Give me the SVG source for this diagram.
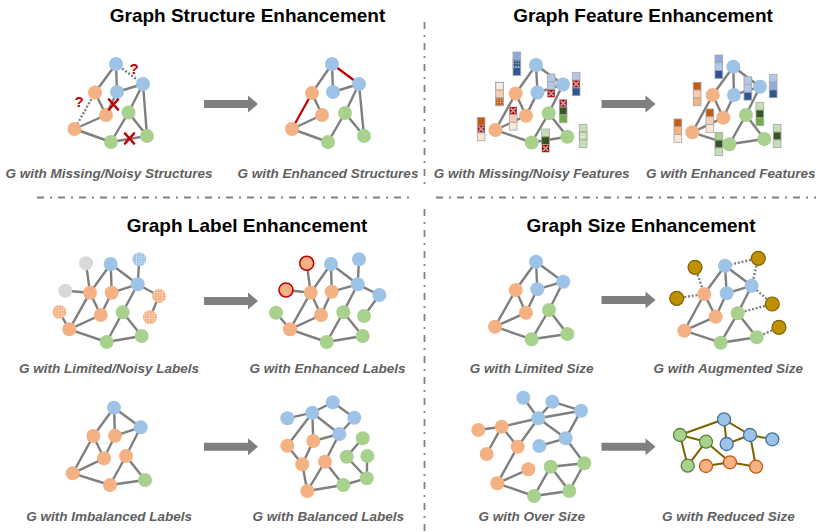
<svg xmlns="http://www.w3.org/2000/svg" xmlns:xlink="http://www.w3.org/1999/xlink" width="816" height="532" viewBox="0 0 816 532">
<style>
.e{stroke:#7f7f7f;stroke-width:2.4;fill:none}
.d{stroke:#7f7f7f;stroke-width:2.4;fill:none;stroke-dasharray:2 1.8}
.re{stroke:#c00000;stroke-width:2.2;fill:none}
.ol{stroke:#806000;stroke-width:2;fill:none}
.div{stroke:#808080;stroke-width:1.8;fill:none;stroke-dasharray:7 6 2 6}
.b{fill:#9dc3e6}.o{fill:#f4b183}.g{fill:#a9d18e}.gy{fill:#d9d9d9}
.au{fill:#bf9000;stroke:#7f6000;stroke-width:1.2}
.bs{fill:#9dc3e6;stroke:#41719c;stroke-width:1.3}
.os{fill:#f4b183;stroke:#c55a11;stroke-width:1.3}
.gs{fill:#a9d18e;stroke:#548235;stroke-width:1.3}
.rs{fill:#f4b183;stroke:#c00000;stroke-width:1.6}
.dt{fill:url(#dots)}
.cell{stroke:#a6a6a6;stroke-width:0.8}
.x{stroke:#c00000;stroke-width:2.6;fill:none;stroke-linecap:round}
.q{font-family:"Liberation Sans",Arial,sans-serif;font-weight:bold;font-size:15px;fill:#c00000;text-anchor:middle}
.t{font-family:"Liberation Sans",Arial,sans-serif;font-weight:bold;font-size:19px;fill:#000;text-anchor:middle}
.s{font-family:"Liberation Sans",Arial,sans-serif;font-weight:bold;font-style:italic;font-size:13.5px;fill:#606060;text-anchor:middle}
</style>
<defs>
<pattern id="dots" width="2.6" height="2.6" patternUnits="userSpaceOnUse"><circle cx="1.3" cy="1.3" r="0.6" fill="#fff"/></pattern>
<symbol id="nz" viewBox="0 0 8 8"><rect width="8" height="8" fill="#c00000"/><g fill="#fff"><circle cx="2" cy="2" r=".6"/><circle cx="6" cy="2" r=".6"/><circle cx="3" cy="3" r=".6"/><circle cx="5" cy="3" r=".6"/><circle cx="4" cy="4" r=".6"/><circle cx="3" cy="5" r=".6"/><circle cx="5" cy="5" r=".6"/><circle cx="2" cy="6" r=".6"/><circle cx="6" cy="6" r=".6"/></g></symbol>
<path id="arr" d="M0 -4H44V-8.5L54 0L44 8.5V4H0Z" fill="#7f7f7f"/>
</defs>
<rect width="816" height="532" fill="#fff"/>

<g id="dividers">
<path class="div" d="M37 197.5H413M436 197.5H816"/>
<path class="div" d="M424.5 22V187M424.5 209V532"/>
</g>

<g id="titles">
<text class="t" x="247.5" y="22">Graph Structure Enhancement</text>
<text class="t" x="643" y="22">Graph Feature Enhancement</text>
<text class="t" x="247" y="232">Graph Label Enhancement</text>
<text class="t" x="641" y="232">Graph Size Enhancement</text>
</g>

<g id="connectors">
<g class="e"><path d="M116 64L117 92M116 64L95 92.5M117 92L143 84M143 84L128.5 112.5M143 84L147 136M95 92.5L106 115M106 115L117 92M74.5 129L106 115M74.5 129L111 142M111 142L128.5 112.5M128.5 112.5L147 136M111 142L147 136"/></g>
<g class="d"><path d="M116 64L143 84M95 92.5L74.5 129"/></g>
<g class="e"><path d="M332 64L333 92M332 64L312 93M333 92L359 84M359 84L345 113M359 84L364 136M312 93L322 115M292 129L322 115M292 129L328 142M328 142L345 113M345 113L364 136"/></g>
<g class="re"><path d="M332 64L359 84M312 93L292 129"/></g>
<g class="e"><path d="M536 65L537.5 92.5M536 65L563 84.5M536 65L515.7 93.5M537.5 92.5L563 84.5M563 84.5L548.7 113.3M548.7 113.3L567.3 136.7M548.7 113.3L531.7 142.5M531.7 142.5L567.3 136.7M495.5 130L531.7 142.5M495.5 130L526 115.7M495.5 130L515.7 93.5M515.7 93.5L526 115.7M526 115.7L537.5 92.5"/></g>
<g class="e"><path d="M733.3 66.7L734 95M733.3 66.7L760 86.7M733.3 66.7L712.7 95M734 95L760 86.7M760 86.7L746 115M746 115L764.3 139M746 115L729.3 144.3M729.3 144.3L764.3 139M692.3 132.3L729.3 144.3M692.3 132.3L723.3 117.7M692.3 132.3L712.7 95M712.7 95L723.3 117.7M723.3 117.7L734 95"/></g>
<g class="e"><path d="M86 263.3L90 292.7M65.3 290.7L90 292.7M90 292.7L110.7 264M110.7 264L111.7 292.7M110.7 264L137.7 284.3M139.3 259.3L137.7 284.3M137.7 284.3L159 296M159 296L150 317.3M137.7 284.3L122.7 312.3M111.7 292.7L100.7 315M90 292.7L100.7 315M90 292.7L69.3 329.3M69.3 329.3L100.7 315M59.3 312L69.3 329.3M69.3 329.3L106.7 342M106.7 342L122.7 312.3M122.7 312.3L141.7 336M106.7 342L141.7 336M111.7 292.7L137.7 284.3"/></g>
<g class="e"><path d="M306.7 263.3L310.7 292.7M286 290L310.7 292.7M310.7 292.7L331 264M331 264L331.7 291.7M331 264L357.7 284.3M359 259.3L357.7 284.3M357.7 284.3L379.3 295M379.3 295L364 316M357.7 284.3L343.3 312.3M331.7 291.7L321 315M310.7 292.7L321 315M310.7 292.7L290 329.3M290 329.3L321 315M276 312.7L290 329.3M290 329.3L326.7 342M326.7 342L343.3 312.3M343.3 312.3L362.7 336M326.7 342L362.7 336M331.7 291.7L357.7 284.3"/></g>
<g class="e"><path d="M536 261.7L537.3 289.3M536 261.7L563.3 281.7M536 261.7L515.7 290M537.3 289.3L563.3 281.7M563.3 281.7L549 310M549 310L567.3 334M549 310L531.7 339.3M531.7 339.3L567.3 334M495 326.7L531.7 339.3M495 326.7L526 312.7M495 326.7L515.7 290M515.7 290L526 312.7M526 312.7L537.3 289.3"/></g>
<g class="e"><path d="M725 265.7L726.7 293.3M725 265.7L751.7 285.7M725 265.7L704.3 294M726.7 293.3L751.7 285.7M751.7 285.7L737.7 313.3M737.7 313.3L756.7 337.3M737.7 313.3L720.7 342.7M720.7 342.7L756.7 337.3M684.3 330.7L720.7 342.7M684.3 330.7L715.7 316.7M684.3 330.7L704.3 294M704.3 294L715.7 316.7M715.7 316.7L726.7 293.3"/></g>
<g class="d"><path d="M695 267.3L704.3 294M676.7 298.3L704.3 294M758.3 258.3L725 265.7M758.3 258.3L751.7 285.7M772.3 304L751.7 285.7M772.3 304L737.7 313.3M779 327.3L756.7 337.3"/></g>
<g class="e"><path d="M114 407.7L93.3 436M114 407.7L115 435.7M114 407.7L140.7 427.3M115 435.7L140.7 427.3M93.3 436L104 458.3M115 435.7L104 458.3M93.3 436L72.7 473.3M72.7 473.3L104 458.3M72.7 473.3L110 485M110 485L126 456M126 456L140.7 427.3M126 456L145 480M110 485L145 480"/></g>
<g class="e"><path d="M287.3 418.3L312.3 412.7M312.3 412.7L332.7 402.3M332.7 402.3L354.3 417.7M354.3 417.7L339.3 434M312.3 412.7L339.3 434M312.3 412.7L287.3 445.7M312.3 412.7L313.3 441M313.3 441L339.3 434M287.3 445.7L302.3 464.3M313.3 441L302.3 464.3M339.3 434L325 461.7M302.3 464.3L307.3 491M325 461.7L307.3 491M307.3 491L343.3 485M325 461.7L343.3 485M343.3 485L366.7 478.3M366.7 478.3L367.3 456M346.7 456.7L362.7 438.3M346.7 456.7L366.7 478.3"/></g>
<g class="e"><path d="M523.3 397.7L538.3 418.3M552.3 401.7L538.3 418.3M552.3 401.7L581 410.7M581 410.7L538.3 418.3M581 410.7L565.7 438.3M538.3 418.3L565.7 438.3M538.3 418.3L501.7 426.7M538.3 418.3L517.7 446.7M565.7 438.3L539.3 446M565.7 438.3L584.3 463.3M478.3 430L501.7 426.7M501.7 426.7L517.7 446.7M501.7 426.7L486.7 454M517.7 446.7L497.3 483.3M497.3 483.3L528.3 469.3M497.3 483.3L534 496M534 496L550.7 466.7M550.7 466.7L584.3 463.3M550.7 466.7L569.3 491M569.3 491L534 496M569.3 491L584.3 463.3"/></g>
<g class="ol"><path d="M680 435L724 419.3M680 435L706 441.7M680 435L687.7 465.7M706 441.7L687.7 465.7M724 419.3L750 435M724 419.3L726.7 444M726.7 444L750 435M750 435L772.3 439.3M750 435L756 466.7M706 441.7L730 462.3M706 466L730 462.3M730 462.3L756 466.7"/></g>
</g>

<g id="nodes">
<g id="s1-b1"><circle class="b" cx="116" cy="64" r="7"/></g>
<g id="s1-b2"><circle class="b" cx="143" cy="84" r="7"/></g>
<g id="s1-b3"><circle class="b" cx="117" cy="92" r="7"/></g>
<g id="s1-o1"><circle class="o" cx="95" cy="92.5" r="7"/></g>
<g id="s1-o2"><circle class="o" cx="106" cy="115" r="7"/></g>
<g id="s1-o3"><circle class="o" cx="74.5" cy="129" r="7"/></g>
<g id="s1-g1"><circle class="g" cx="128.5" cy="112.5" r="7"/></g>
<g id="s1-g2"><circle class="g" cx="111" cy="142" r="7"/></g>
<g id="s1-g3"><circle class="g" cx="147" cy="136" r="7"/></g>
<g id="s2-b1"><circle class="b" cx="332" cy="64" r="7"/></g>
<g id="s2-b2"><circle class="b" cx="359" cy="84" r="7"/></g>
<g id="s2-b3"><circle class="b" cx="333" cy="92" r="7"/></g>
<g id="s2-o1"><circle class="o" cx="312" cy="93" r="7"/></g>
<g id="s2-o2"><circle class="o" cx="322" cy="115" r="7"/></g>
<g id="s2-o3"><circle class="o" cx="292" cy="129" r="7"/></g>
<g id="s2-g1"><circle class="g" cx="345" cy="113" r="7"/></g>
<g id="s2-g2"><circle class="g" cx="328" cy="142" r="7"/></g>
<g id="s2-g3"><circle class="g" cx="364" cy="136" r="7"/></g>
<g id="f1-b1"><circle class="b" cx="536" cy="65" r="7"/></g>
<g id="f1-b2"><circle class="b" cx="563" cy="84.5" r="7"/></g>
<g id="f1-b3"><circle class="b" cx="537.5" cy="92.5" r="7"/></g>
<g id="f1-o1"><circle class="o" cx="515.7" cy="93.5" r="7"/></g>
<g id="f1-o2"><circle class="o" cx="526" cy="115.7" r="7"/></g>
<g id="f1-o3"><circle class="o" cx="495.5" cy="130" r="7"/></g>
<g id="f1-g1"><circle class="g" cx="548.7" cy="113.3" r="7"/></g>
<g id="f1-g2"><circle class="g" cx="531.7" cy="142.5" r="7"/></g>
<g id="f1-g3"><circle class="g" cx="567.3" cy="136.7" r="7"/></g>
<g id="f2-b1"><circle class="b" cx="733.3" cy="66.7" r="7"/></g>
<g id="f2-b2"><circle class="b" cx="760" cy="86.7" r="7"/></g>
<g id="f2-b3"><circle class="b" cx="734" cy="95" r="7"/></g>
<g id="f2-o1"><circle class="o" cx="712.7" cy="95" r="7"/></g>
<g id="f2-o2"><circle class="o" cx="723.3" cy="117.7" r="7"/></g>
<g id="f2-o3"><circle class="o" cx="692.3" cy="132.3" r="7"/></g>
<g id="f2-g1"><circle class="g" cx="746" cy="115" r="7"/></g>
<g id="f2-g2"><circle class="g" cx="729.3" cy="144.3" r="7"/></g>
<g id="f2-g3"><circle class="g" cx="764.3" cy="139" r="7"/></g>
<g id="l1-gy1"><circle class="gy" cx="86" cy="263.3" r="7"/></g>
<g id="l1-b1"><circle class="b" cx="110.7" cy="264" r="7"/></g>
<g id="l1-bd"><circle class="b" cx="139.3" cy="259.3" r="7"/><circle class="dt" cx="139.3" cy="259.3" r="7"/></g>
<g id="l1-gy2"><circle class="gy" cx="65.3" cy="290.7" r="7"/></g>
<g id="l1-o1"><circle class="o" cx="90" cy="292.7" r="7"/></g>
<g id="l1-o2"><circle class="o" cx="111.7" cy="292.7" r="7"/></g>
<g id="l1-b2"><circle class="b" cx="137.7" cy="284.3" r="7"/></g>
<g id="l1-od1"><circle class="o" cx="159" cy="296" r="7"/><circle class="dt" cx="159" cy="296" r="7"/></g>
<g id="l1-od2"><circle class="o" cx="59.3" cy="312" r="7"/><circle class="dt" cx="59.3" cy="312" r="7"/></g>
<g id="l1-o3"><circle class="o" cx="100.7" cy="315" r="7"/></g>
<g id="l1-g1"><circle class="g" cx="122.7" cy="312.3" r="7"/></g>
<g id="l1-od3"><circle class="o" cx="150" cy="317.3" r="7"/><circle class="dt" cx="150" cy="317.3" r="7"/></g>
<g id="l1-o4"><circle class="o" cx="69.3" cy="329.3" r="7"/></g>
<g id="l1-g2"><circle class="g" cx="106.7" cy="342" r="7"/></g>
<g id="l1-g3"><circle class="g" cx="141.7" cy="336" r="7"/></g>
<g id="l2-r1"><circle class="rs" cx="306.7" cy="263.3" r="7"/></g>
<g id="l2-b1"><circle class="b" cx="331" cy="264" r="7"/></g>
<g id="l2-bt"><circle class="b" cx="359" cy="259.3" r="7"/></g>
<g id="l2-r2"><circle class="rs" cx="286" cy="290" r="7"/></g>
<g id="l2-o1"><circle class="o" cx="310.7" cy="292.7" r="7"/></g>
<g id="l2-o2"><circle class="o" cx="331.7" cy="291.7" r="7"/></g>
<g id="l2-b2"><circle class="b" cx="357.7" cy="284.3" r="7"/></g>
<g id="l2-br"><circle class="b" cx="379.3" cy="295" r="7"/></g>
<g id="l2-gl"><circle class="g" cx="276" cy="312.7" r="7"/></g>
<g id="l2-o3"><circle class="o" cx="321" cy="315" r="7"/></g>
<g id="l2-g1"><circle class="g" cx="343.3" cy="312.3" r="7"/></g>
<g id="l2-gr"><circle class="g" cx="364" cy="316" r="7"/></g>
<g id="l2-o4"><circle class="o" cx="290" cy="329.3" r="7"/></g>
<g id="l2-g2"><circle class="g" cx="326.7" cy="342" r="7"/></g>
<g id="l2-g3"><circle class="g" cx="362.7" cy="336" r="7"/></g>
<g id="z1-b1"><circle class="b" cx="536" cy="261.7" r="7"/></g>
<g id="z1-b2"><circle class="b" cx="563.3" cy="281.7" r="7"/></g>
<g id="z1-b3"><circle class="b" cx="537.3" cy="289.3" r="7"/></g>
<g id="z1-o1"><circle class="o" cx="515.7" cy="290" r="7"/></g>
<g id="z1-o2"><circle class="o" cx="526" cy="312.7" r="7"/></g>
<g id="z1-o3"><circle class="o" cx="495" cy="326.7" r="7"/></g>
<g id="z1-g1"><circle class="g" cx="549" cy="310" r="7"/></g>
<g id="z1-g2"><circle class="g" cx="531.7" cy="339.3" r="7"/></g>
<g id="z1-g3"><circle class="g" cx="567.3" cy="334" r="7"/></g>
<g id="z2-b1"><circle class="b" cx="725" cy="265.7" r="7"/></g>
<g id="z2-b2"><circle class="b" cx="751.7" cy="285.7" r="7"/></g>
<g id="z2-b3"><circle class="b" cx="726.7" cy="293.3" r="7"/></g>
<g id="z2-o1"><circle class="o" cx="704.3" cy="294" r="7"/></g>
<g id="z2-o2"><circle class="o" cx="715.7" cy="316.7" r="7"/></g>
<g id="z2-o3"><circle class="o" cx="684.3" cy="330.7" r="7"/></g>
<g id="z2-g1"><circle class="g" cx="737.7" cy="313.3" r="7"/></g>
<g id="z2-g2"><circle class="g" cx="720.7" cy="342.7" r="7"/></g>
<g id="z2-g3"><circle class="g" cx="756.7" cy="337.3" r="7"/></g>
<g id="z2-a1"><circle class="au" cx="695" cy="267.3" r="7"/></g>
<g id="z2-a2"><circle class="au" cx="758.3" cy="258.3" r="7"/></g>
<g id="z2-a3"><circle class="au" cx="676.7" cy="298.3" r="7"/></g>
<g id="z2-a4"><circle class="au" cx="772.3" cy="304" r="7"/></g>
<g id="z2-a5"><circle class="au" cx="779" cy="327.3" r="7"/></g>
<g id="i1-b1"><circle class="b" cx="114" cy="407.7" r="7"/></g>
<g id="i1-b2"><circle class="b" cx="140.7" cy="427.3" r="7"/></g>
<g id="i1-o1"><circle class="o" cx="93.3" cy="436" r="7"/></g>
<g id="i1-o2"><circle class="o" cx="115" cy="435.7" r="7"/></g>
<g id="i1-o3"><circle class="o" cx="104" cy="458.3" r="7"/></g>
<g id="i1-o4"><circle class="o" cx="126" cy="456" r="7"/></g>
<g id="i1-o5"><circle class="o" cx="72.7" cy="473.3" r="7"/></g>
<g id="i1-o6"><circle class="o" cx="110" cy="485" r="7"/></g>
<g id="i1-g1"><circle class="g" cx="145" cy="480" r="7"/></g>
<g id="i2-bl"><circle class="b" cx="287.3" cy="418.3" r="7"/></g>
<g id="i2-b1"><circle class="b" cx="312.3" cy="412.7" r="7"/></g>
<g id="i2-bt"><circle class="b" cx="332.7" cy="402.3" r="7"/></g>
<g id="i2-br"><circle class="b" cx="354.3" cy="417.7" r="7"/></g>
<g id="i2-b2"><circle class="b" cx="339.3" cy="434" r="7"/></g>
<g id="i2-o1"><circle class="o" cx="287.3" cy="445.7" r="7"/></g>
<g id="i2-o2"><circle class="o" cx="313.3" cy="441" r="7"/></g>
<g id="i2-o3"><circle class="o" cx="302.3" cy="464.3" r="7"/></g>
<g id="i2-o4"><circle class="o" cx="325" cy="461.7" r="7"/></g>
<g id="i2-o5"><circle class="o" cx="307.3" cy="491" r="7"/></g>
<g id="i2-gt"><circle class="g" cx="362.7" cy="438.3" r="7"/></g>
<g id="i2-gm"><circle class="g" cx="346.7" cy="456.7" r="7"/></g>
<g id="i2-gr"><circle class="g" cx="367.3" cy="456" r="7"/></g>
<g id="i2-g1"><circle class="g" cx="343.3" cy="485" r="7"/></g>
<g id="i2-g2"><circle class="g" cx="366.7" cy="478.3" r="7"/></g>
<g id="v1-bt1"><circle class="b" cx="523.3" cy="397.7" r="7"/></g>
<g id="v1-bt2"><circle class="b" cx="552.3" cy="401.7" r="7"/></g>
<g id="v1-bt3"><circle class="b" cx="581" cy="410.7" r="7"/></g>
<g id="v1-bc"><circle class="b" cx="538.3" cy="418.3" r="7"/></g>
<g id="v1-bm"><circle class="b" cx="565.7" cy="438.3" r="7"/></g>
<g id="v1-bl"><circle class="b" cx="539.3" cy="446" r="7"/></g>
<g id="v1-oa"><circle class="o" cx="478.3" cy="430" r="7"/></g>
<g id="v1-ob"><circle class="o" cx="501.7" cy="426.7" r="7"/></g>
<g id="v1-oc"><circle class="o" cx="517.7" cy="446.7" r="7"/></g>
<g id="v1-od"><circle class="o" cx="486.7" cy="454" r="7"/></g>
<g id="v1-oe"><circle class="o" cx="528.3" cy="469.3" r="7"/></g>
<g id="v1-of"><circle class="o" cx="497.3" cy="483.3" r="7"/></g>
<g id="v1-ga"><circle class="g" cx="550.7" cy="466.7" r="7"/></g>
<g id="v1-gb"><circle class="g" cx="584.3" cy="463.3" r="7"/></g>
<g id="v1-gc"><circle class="g" cx="534" cy="496" r="7"/></g>
<g id="v1-gd"><circle class="g" cx="569.3" cy="491" r="7"/></g>
<g id="v2-gl"><circle class="gs" cx="680" cy="435" r="6.5"/></g>
<g id="v2-gm"><circle class="gs" cx="706" cy="441.7" r="6.5"/></g>
<g id="v2-gb"><circle class="gs" cx="687.7" cy="465.7" r="6.5"/></g>
<g id="v2-b1"><circle class="bs" cx="724" cy="419.3" r="6.5"/></g>
<g id="v2-b2"><circle class="bs" cx="750" cy="435" r="6.5"/></g>
<g id="v2-b3"><circle class="bs" cx="726.7" cy="444" r="6.5"/></g>
<g id="v2-b4"><circle class="bs" cx="772.3" cy="439.3" r="6.5"/></g>
<g id="v2-o1"><circle class="os" cx="706" cy="466" r="6.5"/></g>
<g id="v2-o2"><circle class="os" cx="730" cy="462.3" r="6.5"/></g>
<g id="v2-o3"><circle class="os" cx="756" cy="466.7" r="6.5"/></g>
</g>

<g id="features-left" class="cell">
<g><rect x="513" y="52" width="7.7" height="7.8" fill="#8faadc"/><rect x="513" y="59.8" width="7.7" height="7.8" fill="#2f5597"/><rect x="513" y="59.8" width="7.7" height="7.8" class="dt"/><rect x="513" y="67.6" width="7.7" height="7.8" fill="#2f5597"/></g>
<g><rect x="547.3" y="74" width="7.7" height="7.8" fill="#b4c7e7"/><rect x="547.3" y="81.8" width="7.7" height="7.8" fill="#b4c7e7"/><use href="#nz" x="547.3" y="89.6" width="7.7" height="7.8"/></g>
<g><rect x="572.3" y="72.3" width="7.7" height="7.8" fill="#b4c7e7"/><use href="#nz" x="572.3" y="80.1" width="7.7" height="7.8"/><rect x="572.3" y="87.9" width="7.7" height="7.8" fill="#2f5597"/></g>
<g><rect x="495.7" y="82.3" width="7.7" height="7.8" fill="#fbe5d6"/><rect x="495.7" y="82.3" width="7.7" height="7.8" class="dt"/><rect x="495.7" y="90.1" width="7.7" height="7.8" fill="#f8cbad"/><rect x="495.7" y="97.9" width="7.7" height="7.8" fill="#c55a11"/><rect x="495.7" y="97.9" width="7.7" height="7.8" class="dt"/></g>
<g><use href="#nz" x="509.3" y="106.7" width="7.7" height="7.8"/><rect x="509.3" y="114.5" width="7.7" height="7.8" fill="#f8cbad"/><rect x="509.3" y="122.3" width="7.7" height="7.8" fill="#fbe5d6"/></g>
<g><rect x="477.3" y="117.3" width="7.7" height="7.8" fill="#c55a11"/><use href="#nz" x="477.3" y="125.1" width="7.7" height="7.8"/><rect x="477.3" y="132.9" width="7.7" height="7.8" fill="#fbe5d6"/></g>
<g><use href="#nz" x="559.3" y="99.3" width="7.7" height="7.8"/><rect x="559.3" y="107.1" width="7.7" height="7.8" fill="#375623"/><rect x="559.3" y="114.9" width="7.7" height="7.8" fill="#70ad47"/></g>
<g><rect x="541.7" y="129" width="7.7" height="7.8" fill="#c5e0b4"/><rect x="541.7" y="136.8" width="7.7" height="7.8" fill="#375623"/><use href="#nz" x="541.7" y="144.6" width="7.7" height="7.8"/></g>
<g><rect x="579.3" y="124.3" width="7.7" height="7.8" fill="#c5e0b4"/><rect x="579.3" y="132.1" width="7.7" height="7.8" fill="#c5e0b4"/><rect x="579.3" y="132.1" width="7.7" height="7.8" class="dt"/><rect x="579.3" y="139.9" width="7.7" height="7.8" fill="#c5e0b4"/></g>
</g>

<g id="features-right" class="cell">
<g><rect x="715" y="55" width="7.7" height="7.8" fill="#8faadc"/><rect x="715" y="62.8" width="7.7" height="7.8" fill="#b4c7e7"/><rect x="715" y="70.6" width="7.7" height="7.8" fill="#2f5597"/></g>
<g><rect x="744" y="76.7" width="7.7" height="7.8" fill="#b4c7e7"/><rect x="744" y="84.5" width="7.7" height="7.8" fill="#b4c7e7"/><rect x="744" y="92.3" width="7.7" height="7.8" fill="#2f5597"/></g>
<g><rect x="769.3" y="74.3" width="7.7" height="7.8" fill="#b4c7e7"/><rect x="769.3" y="82.1" width="7.7" height="7.8" fill="#8faadc"/><rect x="769.3" y="89.9" width="7.7" height="7.8" fill="#2f5597"/></g>
<g><rect x="693.3" y="82.3" width="7.7" height="7.8" fill="#c55a11"/><rect x="693.3" y="90.1" width="7.7" height="7.8" fill="#f8cbad"/><rect x="693.3" y="97.9" width="7.7" height="7.8" fill="#f4b183"/></g>
<g><rect x="706" y="109" width="7.7" height="7.8" fill="#c55a11"/><rect x="706" y="116.8" width="7.7" height="7.8" fill="#f8cbad"/><rect x="706" y="124.6" width="7.7" height="7.8" fill="#fbe5d6"/></g>
<g><rect x="674" y="119" width="7.7" height="7.8" fill="#c55a11"/><rect x="674" y="126.8" width="7.7" height="7.8" fill="#f4b183"/><rect x="674" y="134.6" width="7.7" height="7.8" fill="#fbe5d6"/></g>
<g><rect x="756" y="102.3" width="7.7" height="7.8" fill="#c5e0b4"/><rect x="756" y="110.1" width="7.7" height="7.8" fill="#375623"/><rect x="756" y="117.9" width="7.7" height="7.8" fill="#70ad47"/></g>
<g><rect x="715" y="132.3" width="7.7" height="7.8" fill="#a9d18e"/><rect x="715" y="140.1" width="7.7" height="7.8" fill="#375623"/><rect x="715" y="147.9" width="7.7" height="7.8" fill="#c5e0b4"/></g>
<g><rect x="773.3" y="124.3" width="7.7" height="7.8" fill="#c5e0b4"/><rect x="773.3" y="132.1" width="7.7" height="7.8" fill="#375623"/><rect x="773.3" y="139.9" width="7.7" height="7.8" fill="#c5e0b4"/></g>
</g>

<g id="marks">
<path class="x" d="M109 99.5L118 109.5M118 99.5L109 109.5"/>
<path class="x" d="M125 133.5L134 143.5M134 133.5L125 143.5"/>
<text class="q" x="134" y="73.5">?</text>
<text class="q" x="79" y="107">?</text>
</g>

<g id="arrows">
<use href="#arr" x="204" y="104"/>
<use href="#arr" x="601.5" y="104"/>
<use href="#arr" x="204" y="301"/>
<use href="#arr" x="601.5" y="300"/>
<use href="#arr" x="204" y="446.7"/>
<use href="#arr" x="601.5" y="446.7"/>
</g>

<g id="captions">
<text class="s" x="109" y="177.5">G with Missing/Noisy Structures</text>
<text class="s" x="328" y="177.5">G with Enhanced Structures</text>
<text class="s" x="531.7" y="177.5">G with Missing/Noisy Features</text>
<text class="s" x="730.8" y="177.5">G with Enhanced Features</text>
<text class="s" x="109" y="373">G with Limited/Noisy Labels</text>
<text class="s" x="327.5" y="373">G with Enhanced Labels</text>
<text class="s" x="531.7" y="373">G with Limited Size</text>
<text class="s" x="728.3" y="373">G with Augmented Size</text>
<text class="s" x="109.2" y="521">G with Imbalanced Labels</text>
<text class="s" x="328.3" y="521">G with Balanced Labels</text>
<text class="s" x="531.7" y="521">G with Over Size</text>
<text class="s" x="728.3" y="521">G with Reduced Size</text>
</g>
</svg>
